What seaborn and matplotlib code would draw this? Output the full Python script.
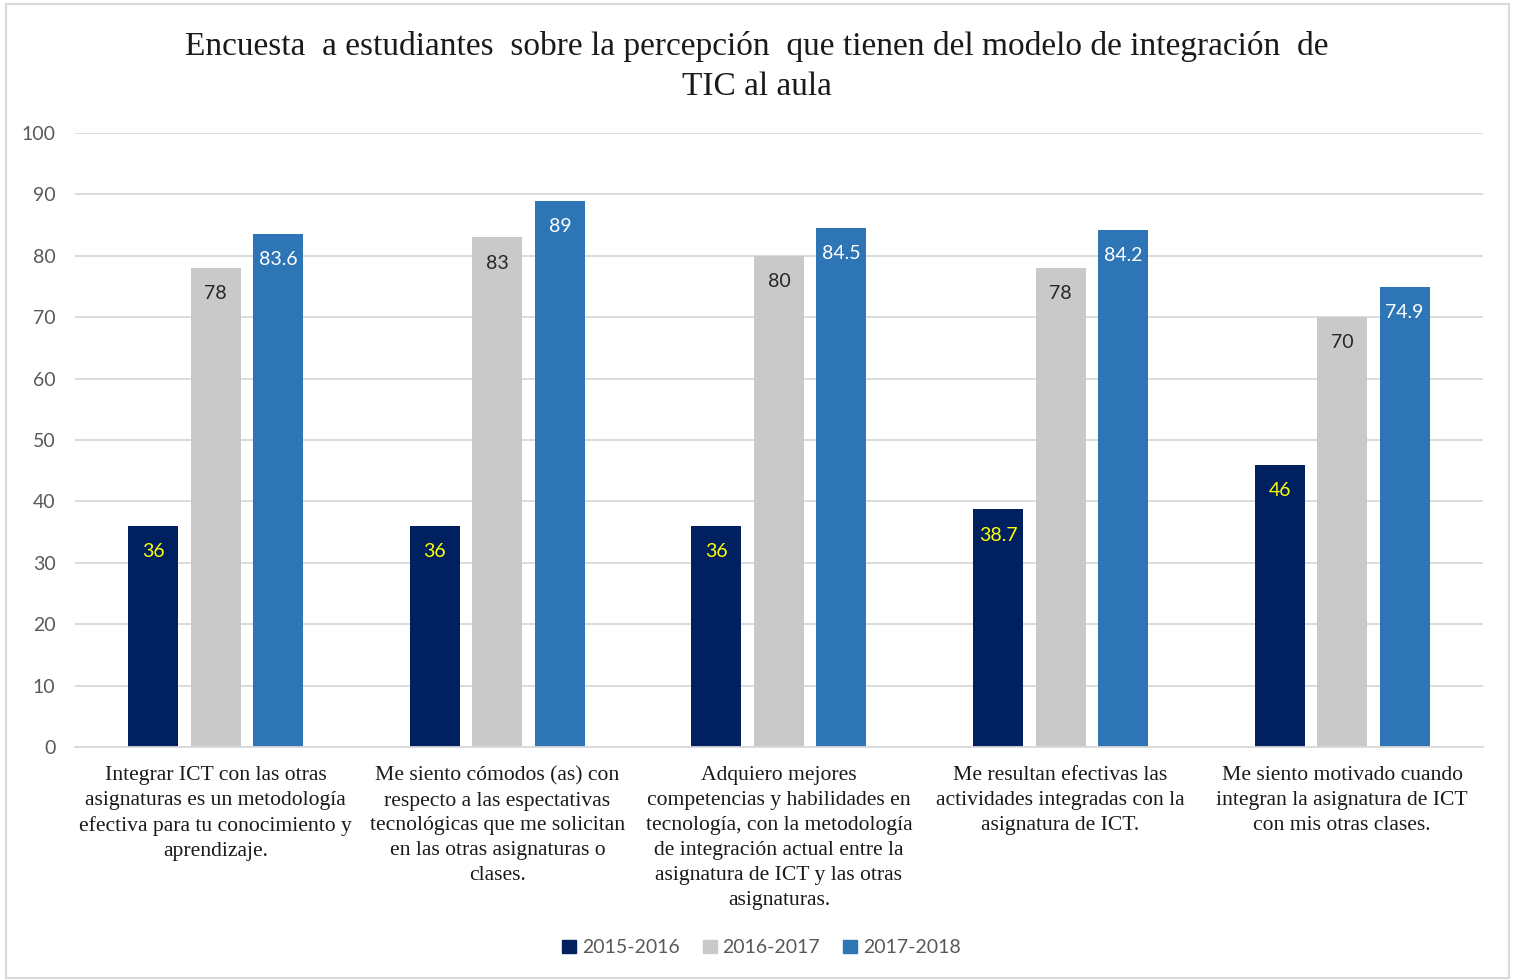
import pandas as pd
import matplotlib.pyplot as plt
import matplotlib.patches as mpatches
import seaborn as sns

# Datos
categorias = [
    "Integrar ICT con las otras\nasignaturas es un metodología\nefectiva para tu conocimiento y\naprendizaje.",
    "Me siento cómodos (as) con\nrespecto a las espectativas\ntecnológicas que me solicitan\nen las otras asignaturas o\nclases.",
    "Adquiero mejores\ncompetencias y habilidades en\ntecnología, con la metodología\nde integración actual entre la\nasignatura de ICT y las otras\nasignaturas.",
    "Me resultan efectivas las\nactividades integradas con la\nasignatura de ICT.",
    "Me siento motivado cuando\nintegran la asignatura de ICT\ncon mis otras clases.",
]
periodos = ["2015-2016", "2016-2017", "2017-2018"]
v_2015 = [36, 36, 36, 38.7, 46]
v_2016 = [78, 83, 80, 78, 70]
v_2017 = [83.6, 89, 84.5, 84.2, 74.9]
etiquetas_y = [0, 10, 20, 30, 40, 50, 60, 70, 80, 90, 100]

colores = {"2015-2016": "#002060", "2016-2017": "#C9C9C9", "2017-2018": "#2E75B6"}
color_texto = {"2015-2016": "#FFFF00", "2016-2017": "#262626", "2017-2018": "#FFFFFF"}

df = pd.DataFrame({
    "categoria": categorias * 3,
    "periodo": [p for p in periodos for _ in categorias],
    "valor": v_2015 + v_2016 + v_2017,
})

sans = ["Lato", "DejaVu Sans"]
serif = ["Liberation Serif", "DejaVu Serif"]

fig = plt.figure(figsize=(15.14, 9.8), dpi=100)
ax = fig.add_axes([0.0495, 0.2378, 0.93, 0.6265])

sns.barplot(data=df, x="categoria", y="valor", hue="periodo", order=categorias,
            hue_order=periodos, palette=colores, width=0.666, gap=0.2,
            saturation=1, ax=ax, legend=False, errorbar=None)

# etiquetas de datos dentro de las barras
for cont, p in zip(ax.containers, periodos):
    for rect, v in zip(cont, df[df.periodo == p]["valor"]):
        txt = f"{v:g}"
        ax.text(rect.get_x() + rect.get_width() / 2, v - 4.2, txt,
                ha="center", va="center", fontsize=14, color=color_texto[p],
                family=sans)

ax.set_ylim(0, 100)
ax.set_xlim(-0.5, 4.5)
ax.set_yticks(etiquetas_y)
ax.set_yticklabels([str(t) for t in etiquetas_y], fontsize=14, color="#595959",
                   family=sans)
ax.set_xticks(range(len(categorias)))
ax.set_xticklabels(categorias, fontsize=15.6, family=serif, color="#1a1a1a",
                   linespacing=1.42)
ax.tick_params(axis="both", length=0)
ax.tick_params(axis="y", pad=14)
ax.tick_params(axis="x", pad=14)
ax.set_xlabel("")
ax.set_ylabel("")
ax.grid(axis="y", color="#D9D9D9", linewidth=1.3)
ax.set_axisbelow(True)
for s in ["top", "right", "left"]:
    ax.spines[s].set_visible(False)
ax.spines["bottom"].set_color("#D9D9D9")
ax.spines["bottom"].set_linewidth(1.3)

fig.suptitle("Encuesta  a estudiantes  sobre la percepción  que tienen del modelo de integración  de\nTIC al aula",
             y=0.968, va="top", fontsize=24, family=serif, color="#1a1a1a", linespacing=1.38)

handles = [mpatches.Patch(color=colores[p], label=p) for p in periodos]
fig.legend(handles=handles, loc="center", bbox_to_anchor=(0.503, 0.033), ncol=3,
           frameon=False, prop={"family": sans, "size": 14}, labelcolor="#595959",
           handlelength=0.7, handleheight=0.7, handletextpad=0.3, columnspacing=1.2)

# borde del gráfico
fig.patches.append(mpatches.Rectangle((0.004, 0.002), 0.993, 0.994, transform=fig.transFigure,
                                      fill=False, edgecolor="#D9D9D9", linewidth=1.5))

fig.savefig("out.png", dpi=100)
